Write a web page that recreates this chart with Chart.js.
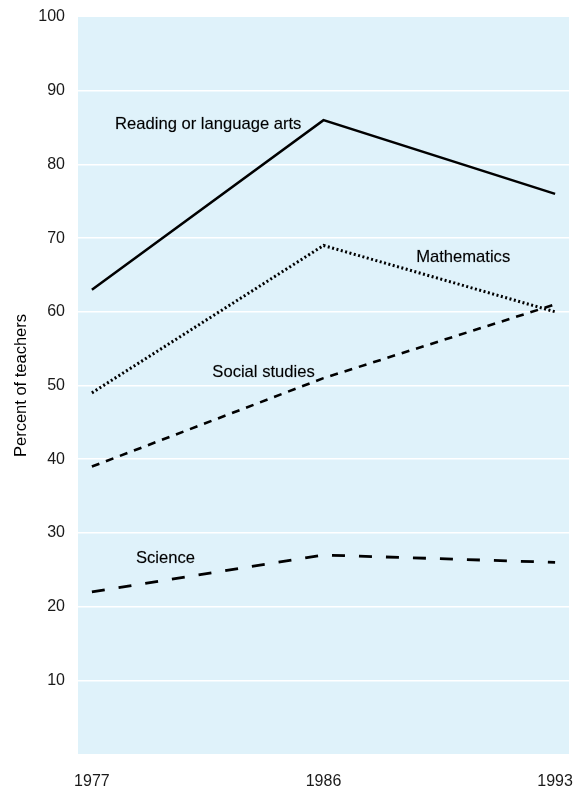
<!DOCTYPE html>
<html>
<head>
<meta charset="utf-8">
<script src="https://cdn.jsdelivr.net/npm/chart.js@4/dist/chart.umd.min.js"></script>
<style>
  html, body { margin: 0; padding: 0; background: #ffffff; }
  #wrap { width: 576px; height: 791px; }
</style>
</head>
<body>
<div id="wrap"><canvas id="c" width="576" height="791"></canvas></div>
<script>
// ---- data ----
const years = ["1977", "1986", "1993"];
const reading = [63, 86, 76];
const mathematics = [49, 69, 60];
const socialStudies = [39, 51, 61];
const science = [22, 27, 26];
const yTicks = [10, 20, 30, 40, 50, 60, 70, 80, 90, 100];
// series label annotations (position in data units: category index, percent)
const labelTexts = ["Reading or language arts", "Mathematics", "Social studies", "Science"];
const labelX = [0.10, 1.40, 0.52, 0.19];
const labelY = [85.4, 67.4, 51.8, 26.6];

const FONT = "'Liberation Sans', Arial, Helvetica, sans-serif";

const toPts = arr => arr.map((v, i) => ({ x: i, y: v }));

const bgPlugin = {
  id: 'bg',
  beforeDraw(chart) {
    const { ctx, chartArea: a } = chart;
    ctx.save();
    ctx.fillStyle = '#dff2fa';
    ctx.fillRect(a.left, a.top, a.right - a.left, a.bottom - a.top);
    ctx.restore();
  }
};

const labelPlugin = {
  id: 'seriesLabels',
  afterDatasetsDraw(chart) {
    const { ctx, scales } = chart;
    ctx.save();
    ctx.fillStyle = '#000';
    ctx.strokeStyle = 'rgba(0,0,0,0.35)';
    ctx.lineWidth = 0.4;
    ctx.font = '16.6px ' + FONT;
    ctx.textAlign = 'left';
    ctx.textBaseline = 'middle';
    labelTexts.forEach((t, i) => {
      const px = scales.x.getPixelForValue(labelX[i]);
      const py = scales.y.getPixelForValue(labelY[i]);
      ctx.fillText(t, px, py);
      ctx.strokeText(t, px, py);
    });
    ctx.restore();
  }
};

const base = { fill: false, pointRadius: 0, tension: 0, borderColor: '#000', borderCapStyle: 'butt' };

new Chart(document.getElementById('c'), {
  type: 'line',
  data: {
    datasets: [
      { ...base, label: labelTexts[0], data: toPts(reading), borderWidth: 2.5 },
      { ...base, label: labelTexts[1], data: toPts(mathematics), borderWidth: 3, borderDash: [2, 2.5] },
      { ...base, label: labelTexts[2], data: toPts(socialStudies), borderWidth: 2.6, borderDash: [8, 7] },
      { ...base, label: labelTexts[3], data: toPts(science), borderWidth: 2.8, borderDash: [13, 14] }
    ]
  },
  options: {
    responsive: false,
    animation: false,
    layout: { padding: { top: 17, right: 7, left: 0, bottom: 0 } },
    plugins: { legend: { display: false }, tooltip: { enabled: false } },
    scales: {
      x: {
        type: 'linear',
        min: -0.06,
        max: 2.06,
        afterBuildTicks(scale) { scale.ticks = years.map((_, i) => ({ value: i })); },
        afterFit(scale) { scale.height = 37; scale.paddingLeft = 0; scale.paddingRight = 0; },
        grid: { display: false, drawTicks: false },
        border: { display: false },
        ticks: {
          padding: 18,
          maxRotation: 0,
          autoSkip: false,
          color: '#1a1a1a',
          font: { family: FONT, size: 16 },
          callback: v => years[v] ?? ''
        }
      },
      y: {
        min: 0,
        max: 100,
        afterBuildTicks(scale) { scale.ticks = [0, ...yTicks].map(v => ({ value: v })); },
        afterFit(scale) { scale.width = 78; scale.paddingTop = 0; scale.paddingBottom = 0; },
        grid: {
          drawTicks: false,
          lineWidth: 1.5,
          color: c => (c.tick && (c.tick.value === 0 || c.tick.value === 100)) ? 'rgba(0,0,0,0)' : '#ffffff'
        },
        border: { display: false },
        title: {
          display: true,
          text: 'Percent of teachers',
          color: '#000',
          font: { family: FONT, size: 16.5 },
          padding: { top: 12, bottom: 0 }
        },
        ticks: {
          padding: 13,
          color: '#1a1a1a',
          font: { family: FONT, size: 16 },
          callback: v => (v === 0 ? '' : String(v))
        }
      }
    }
  },
  plugins: [bgPlugin, labelPlugin]
});
</script>
</body>
</html>
